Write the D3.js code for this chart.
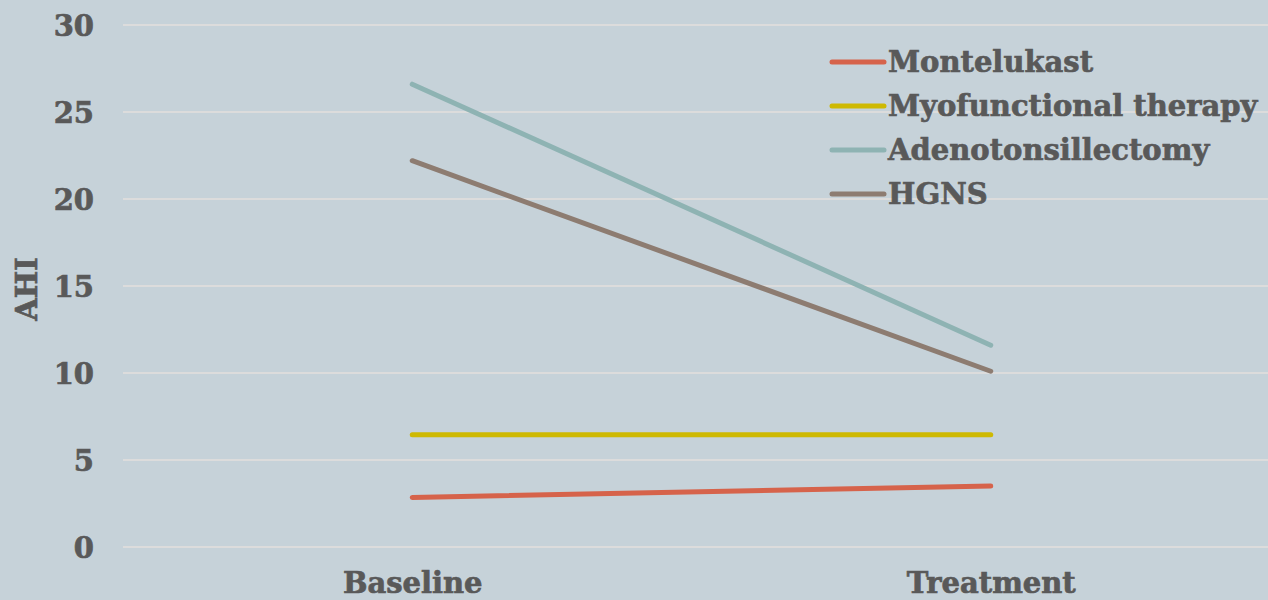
<!DOCTYPE html>
<html>
<head>
<meta charset="utf-8">
<script src="https://cdn.jsdelivr.net/npm/d3@7"></script>
<style>
  html, body { margin: 0; padding: 0; background: #c6d2d9; }
  svg { display: block; }
  text { font-family: "DejaVu Serif", serif; font-weight: bold; fill: #595959; stroke: #595959; stroke-width: 0.7px; }
</style>
</head>
<body>
<svg id="chart" width="1268" height="600"></svg>
<script>
// AHI at baseline and after treatment, per intervention
const phases = ["Baseline", "Treatment"];
const seriesNames = ["Montelukast", "Myofunctional therapy", "Adenotonsillectomy", "HGNS"];
const montelukast = [2.85, 3.5];
const myofunctional = [6.45, 6.45];
const adenotonsillectomy = [26.6, 11.6];
const hgns = [22.2, 10.1];
const yTicks = [0, 5, 10, 15, 20, 25, 30];
const colors = ["#d6634b", "#ceb902", "#8eb3b3", "#8d7c71"];

const seriesValues = [montelukast, myofunctional, adenotonsillectomy, hgns];
const series = seriesNames.map((name, i) => ({ name, color: colors[i], values: seriesValues[i] }));

const svg = d3.select("#chart");
const W = 1268, H = 600;
const margin = { left: 123, right: -12, top: 25, bottom: 53 };
const FS = 29;

const x = d3.scalePoint().domain(phases).range([margin.left, W - margin.right]).padding(0.5);
const y = d3.scaleLinear().domain([0, 30]).range([H - margin.bottom, margin.top]);

svg.append("rect").attr("width", W).attr("height", H).attr("fill", "#c6d2d9");

// horizontal gridlines
svg.append("g").selectAll("line").data(yTicks).join("line")
  .attr("x1", margin.left).attr("x2", W)
  .attr("y1", d => y(d)).attr("y2", d => y(d))
  .attr("stroke", "#dcdcdc").attr("stroke-width", 2);

// y axis tick labels
const yAxis = svg.append("g").attr("transform", `translate(${margin.left - 29},0)`)
  .call(d3.axisLeft(y).tickValues(yTicks).tickSize(0).tickPadding(0));
yAxis.select(".domain").remove();
yAxis.selectAll("text").attr("font-size", FS).attr("dy", "0.35em")
  .style("font-family", '"DejaVu Serif", serif').style("font-weight", "bold").attr("fill", "#595959");

// x axis category labels
const xAxis = svg.append("g").attr("transform", `translate(0,${H - margin.bottom + 20})`)
  .call(d3.axisBottom(x).tickSize(0).tickPadding(0));
xAxis.select(".domain").remove();
xAxis.selectAll("text").attr("font-size", FS).attr("dy", "0.9em")
  .style("font-family", '"DejaVu Serif", serif').style("font-weight", "bold").attr("fill", "#595959");

// y axis title
svg.append("text").attr("transform", `translate(37,${(y(15) + 3)}) rotate(-90)`)
  .attr("text-anchor", "middle").attr("font-size", FS).text("AHI");

// series lines
const line = d3.line().x((d, i) => x(phases[i])).y(d => y(d));
svg.append("g").selectAll("path").data(series).join("path")
  .attr("d", d => line(d.values))
  .attr("fill", "none").attr("stroke", d => d.color)
  .attr("stroke-width", 5).attr("stroke-linecap", "round");

// legend
const legend = svg.append("g").attr("transform", "translate(832,62)");
const item = legend.selectAll("g").data(series).join("g")
  .attr("transform", (d, i) => `translate(0,${i * 44})`);
item.append("line").attr("x1", 0).attr("x2", 52).attr("y1", 0).attr("y2", 0)
  .attr("stroke", d => d.color).attr("stroke-width", 5).attr("stroke-linecap", "round");
item.append("text").attr("x", 56).attr("dy", "0.36em").attr("font-size", FS).text(d => d.name);
</script>
</body>
</html>
